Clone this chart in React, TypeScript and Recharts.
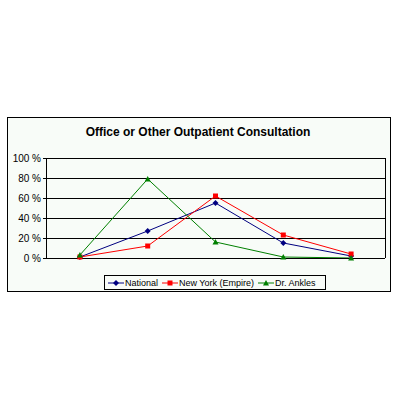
import React from 'react';
import { LineChart, Line, XAxis, YAxis, ReferenceLine } from 'recharts';

const categories = ['1', '2', '3', '4', '5'];
const national = [1, 27, 55, 15, 2];
const newYork = [1, 12, 62, 23, 4];
const drAnkles = [3, 79, 16, 1, 0];
const yTicks = [0, 20, 40, 60, 80, 100];

const data = categories.map((c, i) => ({
    x: i + 0.5,
    national: national[i],
    newYork: newYork[i],
    drAnkles: drAnkles[i],
}));

const FONT = 'Arial, "Liberation Sans", sans-serif';

// Marker shapes like the old Excel series markers
const Diamond = (props: any) => {
    const { cx, cy, fill } = props;
    if (cx == null || cy == null) return null;
    return <path d={`M${cx},${cy - 3}L${cx + 3},${cy}L${cx},${cy + 3}L${cx - 3},${cy}Z`} fill={fill} />;
};
const Square = (props: any) => {
    const { cx, cy, fill } = props;
    if (cx == null || cy == null) return null;
    return <rect x={cx - 2.5} y={cy - 2.5} width={5} height={5} fill={fill} />;
};
const Triangle = (props: any) => {
    const { cx, cy, fill } = props;
    if (cx == null || cy == null) return null;
    return <path d={`M${cx},${cy - 3}L${cx + 3},${cy + 2.5}L${cx - 3},${cy + 2.5}Z`} fill={fill} />;
};

const series = [
    { key: 'national', name: 'National', color: '#000080', Dot: Diamond },
    { key: 'newYork', name: 'New York (Empire)', color: '#ff0000', Dot: Square },
    { key: 'drAnkles', name: 'Dr. Ankles', color: '#008000', Dot: Triangle },
];

const LegendBox: React.FC = () => (
    <div style={{
        position: 'absolute', left: 104, top: 275, width: 220, height: 13,
        border: '1px solid #000', display: 'flex', alignItems: 'center',
        fontFamily: FONT, fontSize: 9, color: '#000', whiteSpace: 'nowrap',
    }}>
        {series.map(s => (
            <span key={s.key} style={{ display: 'flex', alignItems: 'center', marginLeft: 3, marginRight: 1 }}>
                <svg width={16} height={8} style={{ marginRight: 1 }}>
                    <line x1={0} y1={4} x2={16} y2={4} stroke={s.color} strokeWidth={1} />
                    <s.Dot cx={8} cy={4} fill={s.color} />
                </svg>
                {s.name}
            </span>
        ))}
    </div>
);

export default function App() {
    return (
        <div style={{ position: 'absolute', left: 0, top: 0, width: 398, height: 398, background: '#fff' }}>
            <div style={{
                position: 'absolute', left: 7, top: 117, width: 382, height: 173,
                border: '1px solid #000', background: '#f8fcf8',
            }} />
            <div style={{
                position: 'absolute', left: 0, top: 125, width: 396, textAlign: 'center',
                fontFamily: FONT, fontWeight: 'bold', fontSize: 12, color: '#000',
            }}>
                Office or Other Outpatient Consultation
            </div>
            <div style={{ position: 'absolute', left: 0, top: 0 }}>
                <LineChart width={398} height={398} data={data}
                    margin={{ top: 158, right: 13, bottom: 120, left: 0 }}>
                    {yTicks.map(t => (
                        <ReferenceLine key={t} y={t} stroke="#000" strokeWidth={1} shapeRendering="crispEdges" />
                    ))}
                    <ReferenceLine x={5} stroke="#000" shapeRendering="crispEdges" />
                    <XAxis dataKey="x" type="number" domain={[0, 5]} ticks={[0, 1, 2, 3, 4, 5]}
                        tick={false} tickSize={3} stroke="#000" height={20} shapeRendering="crispEdges" />
                    <YAxis domain={[0, 100]} ticks={yTicks} width={46} tickSize={3} stroke="#000"
                        shapeRendering="crispEdges"
                        tickFormatter={(v: number) => `${v} %`}
                        tick={{ fontSize: 10, fontFamily: FONT, fill: '#000' }} />
                    {series.map(s => (
                        <Line key={s.key} dataKey={s.key} name={s.name} stroke={s.color} strokeWidth={1}
                            dot={<s.Dot fill={s.color} />} activeDot={false} isAnimationActive={false} />
                    ))}
                </LineChart>
            </div>
            <LegendBox />
        </div>
    );
}
